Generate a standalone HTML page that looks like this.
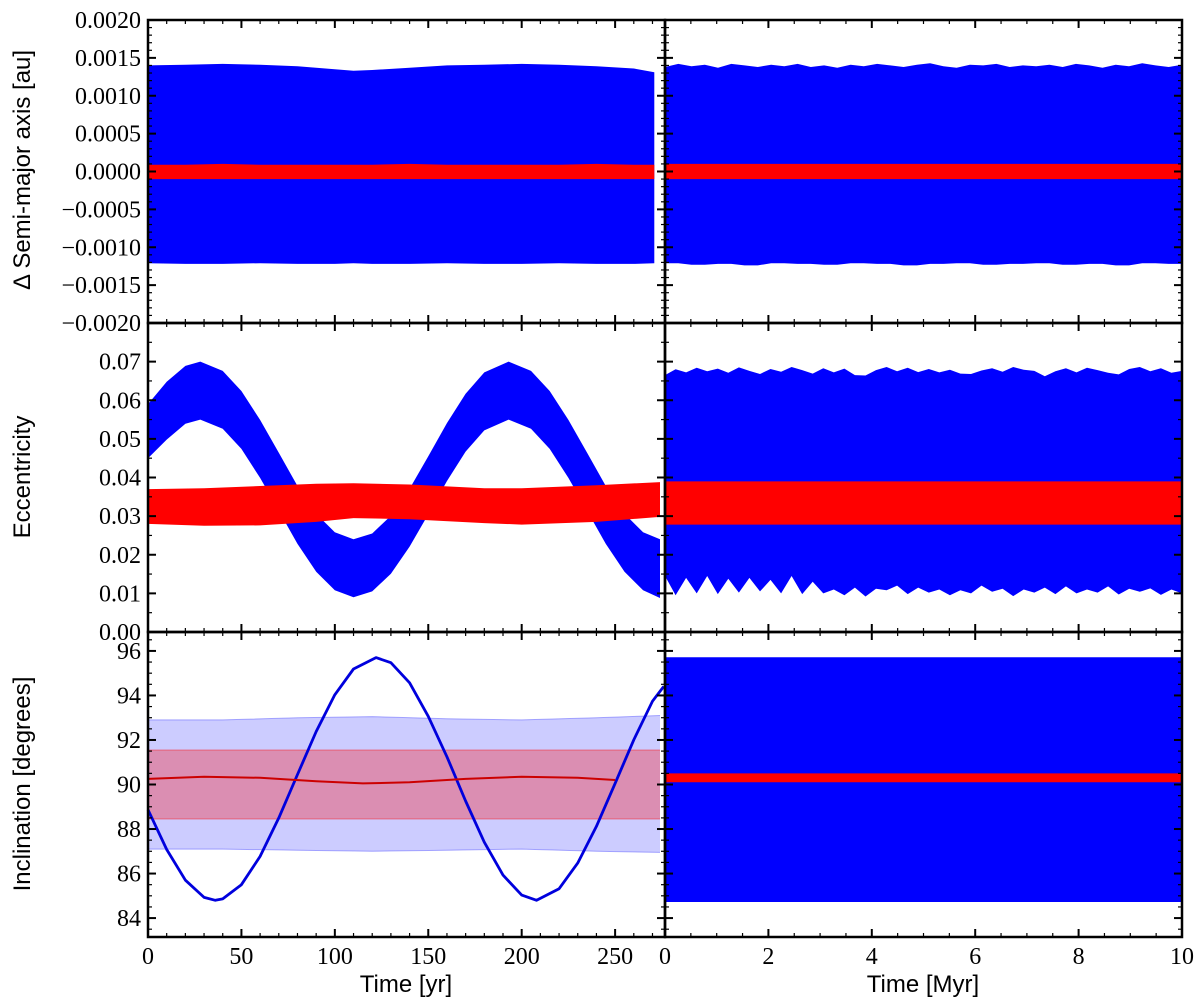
<!DOCTYPE html>
<html><head><meta charset="utf-8"><style>
html,body{margin:0;padding:0;background:#fff;}
svg{display:block;}
.tl{font-family:"Liberation Serif",serif;font-size:24px;fill:#000;}
.al{font-family:"Liberation Sans",sans-serif;font-size:24px;fill:#000;}
</style></head><body>
<svg id="fig" width="1200" height="1001" viewBox="0 0 1200 1001" xmlns="http://www.w3.org/2000/svg"></svg>
<script>
// ---- data ----
const semiLeftT=[0,20,40,60,80,100,110,120,140,160,180,200,220,240,260,271];
const semiLeftBlueTop=[0.00140,0.00141,0.00142,0.00141,0.00139,0.00135,0.00133,0.00134,0.00137,0.00140,0.00141,0.00142,0.00141,0.00139,0.00136,0.00131];
const semiLeftBlueBot=[-0.00121,-0.00122,-0.00122,-0.00121,-0.00122,-0.00122,-0.00121,-0.00122,-0.00122,-0.00121,-0.00122,-0.00122,-0.00121,-0.00122,-0.00122,-0.00121];
const semiLeftRedTop=[0.00009,0.00009,0.00010,0.00009,0.00009,0.00009,0.00009,0.00009,0.00010,0.00009,0.00009,0.00009,0.00009,0.00010,0.00009,0.00009];
const semiLeftRedBot=[-0.00010,-0.00010,-0.00010,-0.00010,-0.00010,-0.00010,-0.00010,-0.00010,-0.00010,-0.00010,-0.00010,-0.00010,-0.00010,-0.00010,-0.00010,-0.00010];
const eccLeftT=[0,10,20,28,40,50,60,70,80,90,100,110,120,130,140,150,160,170,180,193,205,215,225,235,245,255,265,274];
const eccLeftBlueTop=[0.0590,0.0648,0.0689,0.0700,0.0676,0.0624,0.0549,0.0464,0.0378,0.0306,0.0258,0.0240,0.0255,0.0301,0.0371,0.0455,0.0541,0.0617,0.0672,0.0700,0.0676,0.0624,0.0549,0.0464,0.0378,0.0306,0.0258,0.0240];
const eccLeftBlueBot=[0.0450,0.0498,0.0539,0.0550,0.0526,0.0474,0.0399,0.0314,0.0228,0.0156,0.0108,0.0090,0.0105,0.0151,0.0221,0.0305,0.0391,0.0467,0.0522,0.0550,0.0526,0.0474,0.0399,0.0314,0.0228,0.0156,0.0108,0.0088];
const eccLeftRedT=[0,30,60,90,110,140,180,200,240,274];
const eccLeftRedTop=[0.0370,0.0372,0.0378,0.0384,0.0385,0.0382,0.0372,0.0372,0.0380,0.0388];
const eccLeftRedBot=[0.0280,0.0275,0.0276,0.0285,0.0295,0.0292,0.0282,0.0278,0.0285,0.0298];
const incLeftT=[0,10,20,30,36,40,50,60,70,80,90,100,110,122,130,140,150,160,170,180,190,200,208,220,230,240,250,260,270,276];
const incLeftLine=[88.87,87.08,85.70,84.93,84.80,84.86,85.50,86.77,88.50,90.45,92.38,94.03,95.19,95.70,95.47,94.57,93.06,91.24,89.26,87.41,85.93,85.03,84.80,85.32,86.47,88.12,90.05,92.01,93.74,94.40];
const incBandT=[0,40,80,120,160,200,240,274];
const incBlueBandTop=[92.9,92.9,93.0,93.05,92.95,92.9,93.0,93.1];
const incBlueBandBot=[87.1,87.1,87.05,87.0,87.05,87.1,87.0,86.95];
const incRedBandTop=[91.55,91.55,91.55,91.55,91.55,91.55,91.55,91.55];
const incRedBandBot=[88.45,88.45,88.45,88.45,88.45,88.45,88.45,88.45];
const incRedT=[0,30,60,90,115,140,170,200,230,250];
const incRedLine=[90.25,90.35,90.3,90.15,90.05,90.1,90.25,90.35,90.3,90.2];
const semiRightTop=[0.00138,0.00142,0.00139,0.00141,0.00137,0.00142,0.00140,0.00138,0.00141,0.00139,0.00142,0.00138,0.00140,0.00137,0.00141,0.00139,0.00142,0.00140,0.00138,0.00141,0.00143,0.00139,0.00137,0.00141,0.00140,0.00142,0.00138,0.00140,0.00139,0.00141,0.00138,0.00142,0.00140,0.00137,0.00141,0.00139,0.00143,0.00140,0.00138,0.00141];
const semiRightBot=[-0.00121,-0.00123,-0.00122,-0.00124,-0.00121,-0.00122,-0.00123,-0.00121,-0.00122,-0.00124,-0.00122,-0.00121,-0.00123,-0.00122,-0.00121,-0.00123,-0.00122,-0.00124,-0.00121,-0.00122];
const semiRightRed=[0.0001,-0.0001];
const eccRightTop=[0.0665,0.068,0.0672,0.0684,0.0675,0.0682,0.0671,0.0685,0.0676,0.0668,0.0681,0.0674,0.0686,0.0678,0.0669,0.0683,0.0672,0.0682,0.0665,0.0664,0.0678,0.0686,0.0675,0.0684,0.0673,0.0681,0.0672,0.0679,0.0669,0.0668,0.0677,0.0683,0.0674,0.0686,0.0679,0.0676,0.0662,0.0675,0.0683,0.0672,0.0684,0.0678,0.0671,0.0667,0.0681,0.0686,0.0675,0.0683,0.0671,0.0676];
const eccRightBot=[0.0145,0.0095,0.0140,0.0100,0.0145,0.0098,0.0138,0.0102,0.0140,0.0105,0.0135,0.0100,0.0145,0.0098,0.0130,0.0100,0.0110,0.0095,0.0115,0.0092,0.0112,0.0108,0.0120,0.0098,0.0115,0.0102,0.0110,0.0095,0.0108,0.0100,0.0120,0.0104,0.0112,0.0093,0.0110,0.0102,0.0115,0.0098,0.0118,0.0100,0.0110,0.0102,0.0118,0.0097,0.0112,0.0104,0.0113,0.0096,0.0110,0.0100];
const eccRightRed=[0.0390,0.0278];
const incRightBlue=[95.72,84.72];
const incRightRed=[90.5,90.1];
const leftXTicks=[0,50,100,150,200,250];
const rightXTicks=[0,2,4,6,8,10];
const semiYTicks=[-0.002,-0.0015,-0.001,-0.0005,0,0.0005,0.001,0.0015,0.002];
const eccYTicks=[0,0.01,0.02,0.03,0.04,0.05,0.06,0.07];
const incYTicks=[84,86,88,90,92,94,96];

// ---- layout ----
const NS="http://www.w3.org/2000/svg";
const svg=document.getElementById('fig');
const LX=[148,665], RX=[665,1182];
const ROWS=[[20,323],[323,632],[632,937]];
const XL=[0,276.7], XR=[0,10];
const YD=[[-0.002,0.002],[0,0.08],[83.15,96.85]];
function sx(p,dom){return v=>p[0]+(v-dom[0])/(dom[1]-dom[0])*(p[1]-p[0]);}
function sy(r,dom){return v=>r[1]-(v-dom[0])/(dom[1]-dom[0])*(r[1]-r[0]);}
function el(tag,attrs,parent){const e=document.createElementNS(NS,tag);for(const k in attrs)e.setAttribute(k,attrs[k]);(parent||svg).appendChild(e);return e;}
function band(ts,top,bot,X,Y,fill,name,op){
  let d='M'+ts.map((t,i)=>X(t).toFixed(1)+','+Y(top[i]).toFixed(1)).join('L');
  for(let i=ts.length-1;i>=0;i--)d+='L'+X(ts[i]).toFixed(1)+','+Y(bot[i]).toFixed(1);
  const p=el('path',{d:d+'Z',fill:fill,'fill-opacity':op||1});
  
  
  return p;
}
function line(ts,vals,X,Y,stroke,w,name,op){
  const p=el('path',{d:'M'+ts.map((t,i)=>X(t).toFixed(1)+','+Y(vals[i]).toFixed(1)).join('L'),fill:'none',stroke:stroke,'stroke-width':w,'stroke-opacity':op||1,'stroke-linejoin':'round'});
  
  
  return p;
}
function evenT(n,dom){const a=[];for(let i=0;i<n;i++)a.push(dom[0]+(dom[1]-dom[0])*i/(n-1));return a;}

const xl=sx(LX,XL), xr=sx(RX,XR);
const y0=sy(ROWS[0],YD[0]), y1=sy(ROWS[1],YD[1]), y2=sy(ROWS[2],YD[2]);

band(semiLeftT,semiLeftBlueTop,semiLeftBlueBot,xl,y0,'#0000ff','semi-left-blue-band');
band(semiLeftT,semiLeftRedTop,semiLeftRedBot,xl,y0,'#ff0000','semi-left-red-band');
band(evenT(semiRightTop.length,XR),semiRightTop,semiRightTop.map((v,i)=>semiRightBot[Math.floor(i/2)]),xr,y0,'#0000ff','semi-right-blue-band');
band(XR,[semiRightRed[0],semiRightRed[0]],[semiRightRed[1],semiRightRed[1]],xr,y0,'#ff0000','semi-right-red-band');
band(eccLeftT,eccLeftBlueTop,eccLeftBlueBot,xl,y1,'#0000ff','ecc-left-blue-band');
band(eccLeftRedT,eccLeftRedTop,eccLeftRedBot,xl,y1,'#ff0000','ecc-left-red-band');
band(evenT(eccRightTop.length,XR),eccRightTop,eccRightBot,xr,y1,'#0000ff','ecc-right-blue-band');
band(XR,[eccRightRed[0],eccRightRed[0]],[eccRightRed[1],eccRightRed[1]],xr,y1,'#ff0000','ecc-right-red-band');
band(incBandT,incBlueBandTop,incBlueBandBot,xl,y2,'#0000ff','inc-left-blue-range',0.2);
line(incBandT,incBlueBandTop,xl,y2,'#0000ff',1,'inc-left-blue-range-top',0.3);
line(incBandT,incBlueBandBot,xl,y2,'#0000ff',1,'inc-left-blue-range-bottom',0.3);
band(incBandT,incRedBandTop,incRedBandBot,xl,y2,'#ff0000','inc-left-red-range',0.3);
line(incBandT,incRedBandTop,xl,y2,'#ff0000',1,'inc-left-red-range-top',0.4);
line(incBandT,incRedBandBot,xl,y2,'#ff0000',1,'inc-left-red-range-bottom',0.4);
line(incLeftT,incLeftLine,xl,y2,'#0000dd',2.8,'inc-left-blue-line');
line(incRedT,incRedLine,xl,y2,'#cc0000',2,'inc-left-red-line');
band(XR,[incRightBlue[0],incRightBlue[0]],[incRightBlue[1],incRightBlue[1]],xr,y2,'#0000ff','inc-right-blue-band');
band(XR,[incRightRed[0],incRightRed[0]],[incRightRed[1],incRightRed[1]],xr,y2,'#ff0000','inc-right-red-band');

// ---- axes ----
function ticksX(X,row,dom,maj,minStep,labels,name){
  const g=el('g',{stroke:'#000'});
  
  
  for(let v=dom[0];v<=dom[1]+1e-9;v+=minStep){
    const isMaj=maj.some(m=>Math.abs(m-v)<1e-6);const L=isMaj?8:4;const x=X(v);
    el('line',{x1:x,x2:x,y1:row[1],y2:row[1]-L,'stroke-width':isMaj?2:1.2},g);
    el('line',{x1:x,x2:x,y1:row[0],y2:row[0]+L,'stroke-width':isMaj?2:1.2},g);
  }
  if(labels){maj.forEach(m=>{const t=el('text',{x:X(m),y:964,'text-anchor':'middle',class:'tl'});t.textContent=m;});}
}
function ticksY(Y,p,dom,maj,minStep,fmt,name){
  const g=el('g',{stroke:'#000'});
  
  
  const start=Math.ceil((dom[0]-1e-9)/minStep)*minStep;
  for(let v=start;v<=dom[1]+1e-9;v+=minStep){
    const isMaj=maj.some(m=>Math.abs(m-v)<minStep/10);const L=isMaj?8:4;const y=Y(v);
    el('line',{x1:p[0],x2:p[0]+L,y1:y,y2:y,'stroke-width':isMaj?2:1.2},g);
    el('line',{x1:p[1],x2:p[1]-L,y1:y,y2:y,'stroke-width':isMaj?2:1.2},g);
  }
  if(fmt){maj.forEach(m=>{const t=el('text',{x:141,y:Y(m)+8,'text-anchor':'end',class:'tl'});t.textContent=fmt(m);});}
}
const f4=v=>(v<0?'\u2212':'')+Math.abs(v).toFixed(4);
const f2=v=>v.toFixed(2);
const f0=v=>String(v);
ticksY(y0,LX,YD[0],semiYTicks,0.0001,f4,'semi-left-y-ticks');
ticksY(y0,RX,YD[0],semiYTicks,0.0001,null,'semi-right-y-ticks');
ticksY(y1,LX,YD[1],eccYTicks,0.005,f2,'ecc-left-y-ticks');
ticksY(y1,RX,YD[1],eccYTicks,0.005,null,'ecc-right-y-ticks');
ticksY(y2,LX,YD[2],incYTicks,0.5,f0,'inc-left-y-ticks');
ticksY(y2,RX,YD[2],incYTicks,0.5,null,'inc-right-y-ticks');
ROWS.forEach((r,i)=>{
  ticksX(xl,r,[0,270],leftXTicks,10,i==2,'left-x-ticks-'+i);
  ticksX(xr,r,XR,rightXTicks,0.5,i==2,'right-x-ticks-'+i);
});
ROWS.forEach((r,i)=>{
  [LX,RX].forEach((p,j)=>{
    const f=el('rect',{x:p[0],y:r[0],width:p[1]-p[0],height:r[1]-r[0],fill:'none',stroke:'#000','stroke-width':2.5});
    
    
  });
});
function lbl(txt,x,y,rot,name){
  const t=el('text',{x:x,y:y,'text-anchor':'middle',class:'al',transform:rot?`rotate(-90 ${x} ${y})`:''});
  t.textContent=txt;
  
  
}
lbl('\u0394 Semi-major axis [au]',30,170,true,'semi-major-y-axis-title');
lbl('Eccentricity',30,477,true,'eccentricity-y-axis-title');
lbl('Inclination [degrees]',30,784,true,'inclination-y-axis-title');
lbl('Time [yr]',406,992,false,'left-x-axis-title');
lbl('Time [Myr]',923,992,false,'right-x-axis-title');
</script>
</body></html>
